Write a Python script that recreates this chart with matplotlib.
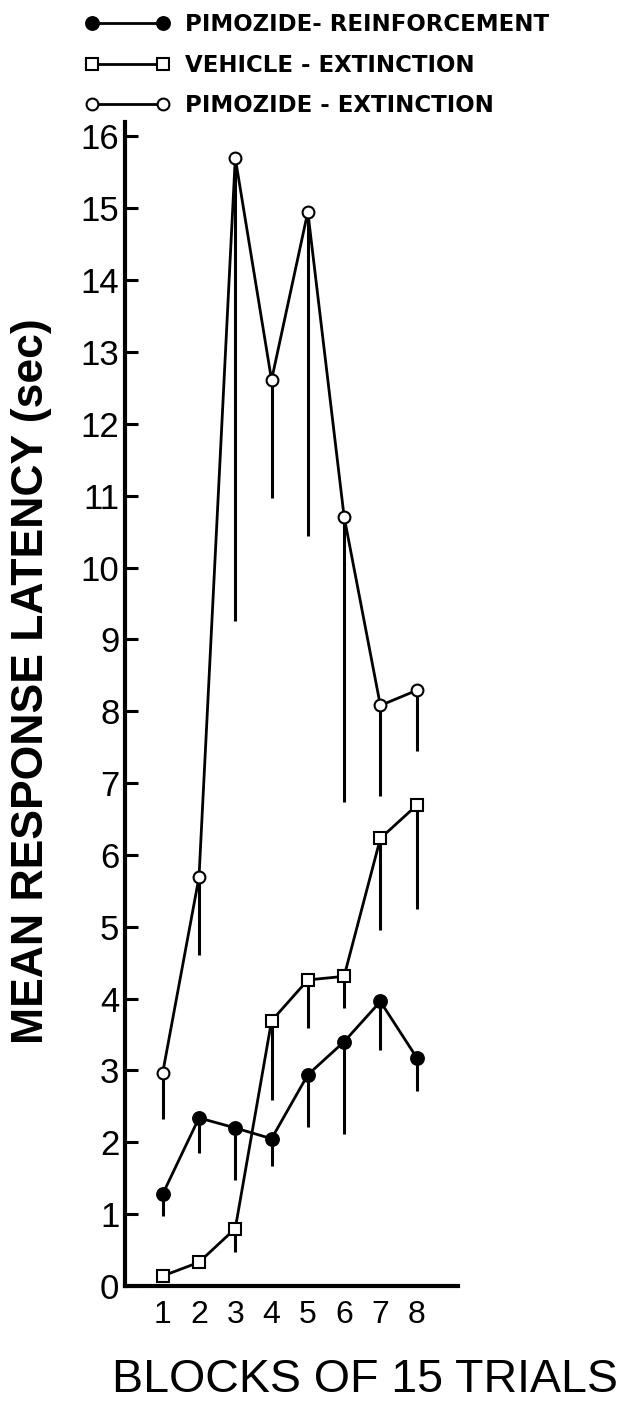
import numpy as np
import matplotlib
matplotlib.use('Agg')
import matplotlib.pyplot as plt

#block numbers (15 trials each)
blocks = [1, 2, 3, 4, 5, 6, 7, 8]
xtick_labels = ['1', '2', '3', '4', '5', '6', '7', '8']
ytick_values = list(range(0, 17))

#mean response latency (sec), with the lower end of each error bar
pimozide_reinf = [1.28, 2.34, 2.20, 2.05, 2.94, 3.40, 3.96, 3.18]
pimozide_reinf_low = [0.98, 1.85, 1.47, 1.67, 2.21, 2.12, 3.29, 2.71]
vehicle_ext = [0.14, 0.33, 0.80, 3.69, 4.26, 4.31, 6.23, 6.69]
vehicle_ext_low = [0.14, 0.33, 0.47, 2.59, 3.59, 3.87, 4.95, 5.25]
pimozide_ext = [2.97, 5.69, 15.70, 12.61, 14.95, 10.71, 8.08, 8.29]
pimozide_ext_low = [2.33, 4.61, 9.26, 10.97, 10.44, 6.74, 6.82, 7.44]

labels = ['PIMOZIDE- REINFORCEMENT', 'VEHICLE - EXTINCTION', 'PIMOZIDE - EXTINCTION']

helv = ['Liberation Sans', 'DejaVu Sans']

fig = plt.figure(figsize=(6.21, 14.21), dpi=100)
ax = fig.add_axes([0.2013, 0.0950, 0.5362, 0.8191])

#error bars only go downward
ax.vlines(blocks, pimozide_reinf_low, pimozide_reinf, color='k', lw=2.2, zorder=2)
ax.vlines(blocks, vehicle_ext_low, vehicle_ext, color='k', lw=2.2, zorder=2)
ax.vlines(blocks, pimozide_ext_low, pimozide_ext, color='k', lw=2.2, zorder=2)

l1, = ax.plot(blocks, pimozide_reinf, color='k', lw=2.0, marker='o', ms=9.5,
              mfc='k', mec='k', mew=1.2, zorder=3)
l2, = ax.plot(blocks, vehicle_ext, color='k', lw=2.0, marker='s', ms=8,
              mfc='white', mec='k', mew=1.5, zorder=3)
l3, = ax.plot(blocks, pimozide_ext, color='k', lw=2.0, marker='o', ms=8.5,
              mfc='white', mec='k', mew=1.5, zorder=3)

ax.set_xlim(-0.04, 9.14)
ax.set_ylim(0, 16.2)
ax.spines['top'].set_visible(False)
ax.spines['right'].set_visible(False)
ax.spines['left'].set_linewidth(3)
ax.spines['bottom'].set_linewidth(3)

ax.set_xticks(blocks)
ax.set_xticklabels(xtick_labels, fontsize=23, family=helv)
ax.set_yticks(ytick_values)
ax.set_yticklabels([str(v) for v in ytick_values], fontsize=25, family=helv)
ax.tick_params(axis='x', length=0, pad=10)
ax.tick_params(axis='y', direction='in', length=9, width=2.2, pad=4)

fig.text(0.0507, 0.5204, 'MEAN RESPONSE LATENCY (sec)', rotation=90, ha='center', va='center',
         fontsize=32, fontweight='bold', family=helv)
fig.text(0.588, 0.0289, 'BLOCKS OF 15 TRIALS', ha='center', va='center', fontsize=33.5,
         family=helv)

leg = ax.legend([l1, l2, l3], labels, loc='upper left', bbox_to_anchor=(85.0 / 621, 0.9911),
                bbox_transform=fig.transFigure, frameon=False, numpoints=2, handlelength=3.7,
                handletextpad=0.66, labelspacing=0.78, borderpad=0, borderaxespad=0,
                prop={'family': 'DejaVu Sans', 'weight': 'bold', 'size': 16.5})

fig.savefig('out.png', dpi=100)
